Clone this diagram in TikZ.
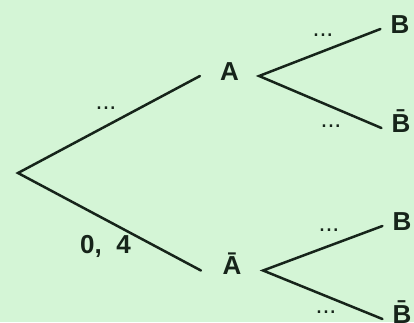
\documentclass[tikz,border=0pt]{standalone}
\usepackage{fontspec}
\setmainfont{Liberation Sans}
\usetikzlibrary{positioning}
\definecolor{mint}{RGB}{212,245,214}
\definecolor{ink}{RGB}{22,36,26}

\begin{document}
\begin{tikzpicture}[x=1pt,y=-1pt,
    every node/.style={font=\fontsize{26}{30}\selectfont\bfseries,text=ink},
    ev/.style={inner xsep=20pt,inner ysep=0pt,
      text height=18pt,text depth=10pt},
    leaf/.style={ev,inner xsep=10pt},
    prob/.style={inner sep=0pt},
    dots/.style={prob,font=\fontsize{25}{30}\selectfont},
    br/.style={draw=ink,line width=2.5pt,line cap=round}
  ]
  \fill[mint] (0,0) rectangle (414,322);
  \useasboundingbox (0,0) rectangle (414,322);

  \coordinate (O) at (18,173);

  % first level
  \node[ev] (A) at (229.5,76) {A};
  \node[ev,inner xsep=21.5pt] (Ab) at (232,270.5) {Ā};

  % second level
  \node[leaf] (B1)  at (400,29)  {B};
  \node[leaf] (B1b) at (401,128) {B̄};
  \node[leaf] (B2)  at (402,226) {B};
  \node[leaf] (B2b) at (402,319) {B̄};

  \draw[br] (A.west) -- (O) -- (Ab.west);
  \draw[br] (B1.west) -- (A.east) -- (B1b.west);
  \draw[br] (B2.west) -- (Ab.east) -- (B2b.west);

  % probabilities
  \node[dots] (pA)   at (106,108) {...};
  \node[prob,anchor=base] (pAb) at (105.5,253) {0,\ \ 4};
  \node[dots] (pB1)  at (323,35)  {...};
  \node[dots] (pB1b) at (331,126) {...};
  \node[dots] (pB2)  at (329,230) {...};
  \node[dots] (pB2b) at (326,312) {...};
\end{tikzpicture}
\end{document}
